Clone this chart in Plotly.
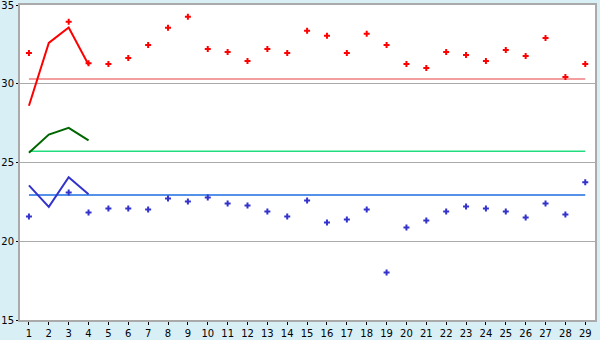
import plotly.graph_objects as go

days = list(range(1, 30))
red_pts = [31.95, None, 33.93, 31.3, 31.25, 31.64, 32.46, 33.55, 34.25, 32.21,
           32.02, 31.45, 32.21, 31.95, 33.36, 33.04, 31.95, 33.17, 32.46, 31.25,
           31.0, 32.02, 31.83, 31.45, 32.15, 31.76, 32.91, 30.43, 31.25]
blue_pts = [21.57, None, 23.10, 21.83, 22.08, 22.08, 22.02, 22.72, 22.53, 22.78,
            22.40, 22.27, 21.89, 21.57, 22.59, 21.19, 21.38, 22.02, 18.01, 20.87,
            21.32, 21.89, 22.21, 22.08, 21.89, 21.51, 22.40, 21.70, 23.74]
line_x = [1, 2, 3, 4]
red_line = [28.60, 32.59, 33.57, 31.21]
green_line = [25.62, 26.77, 27.20, 26.41]
blue_line = [23.55, 22.18, 24.06, 22.99]
ref_x = [1, 29]
red_ref = 30.30
green_ref = 25.71
blue_ref = 22.93

fig = go.Figure()
fig.add_trace(go.Scatter(x=ref_x, y=[red_ref]*2, mode="lines", line=dict(color="#f07f7f", width=1.5)))
fig.add_trace(go.Scatter(x=ref_x, y=[green_ref]*2, mode="lines", line=dict(color="#22dd80", width=1.5)))
fig.add_trace(go.Scatter(x=ref_x, y=[blue_ref]*2, mode="lines", line=dict(color="#1a6ee0", width=1.5)))
fig.add_trace(go.Scatter(x=days, y=red_pts, mode="markers",
                         marker=dict(symbol="cross", size=5, color="#ff0000", line=dict(width=0))))
fig.add_trace(go.Scatter(x=days, y=blue_pts, mode="markers",
                         marker=dict(symbol="cross", size=5, color="#3333cc", line=dict(width=0))))
fig.add_trace(go.Scatter(x=line_x, y=red_line, mode="lines", line=dict(color="#ff0000", width=2)))
fig.add_trace(go.Scatter(x=line_x, y=green_line, mode="lines", line=dict(color="#006600", width=2)))
fig.add_trace(go.Scatter(x=line_x, y=blue_line, mode="lines", line=dict(color="#3333cc", width=2)))

fig.update_layout(
    width=600, height=340,
    margin=dict(l=20, r=5, t=5, b=20),
    paper_bgcolor="#d9eff6", plot_bgcolor="#ffffff",
    showlegend=False,
    font=dict(family="DejaVu Sans", size=10, color="#000000"),
    xaxis=dict(range=[0.55, 29.49], tickmode="array", tickvals=days, ticktext=[str(d) for d in days],
               showgrid=False, zeroline=False, showline=True, linecolor="#aaaaaa", linewidth=2,
               mirror=True, ticks="outside", ticklen=3, tickcolor="#000000", tickwidth=1,
               automargin=False, ticklabeloverflow="allow"),
    yaxis=dict(range=[15, 35], tickvals=[15, 20, 25, 30, 35], showgrid=True, gridcolor="#aaaaaa",
               gridwidth=1, zeroline=False, showline=True, linecolor="#aaaaaa", linewidth=2,
               mirror=True, ticks="outside", ticklen=2, tickcolor="#000000", tickwidth=1,
               automargin=False, ticklabeloverflow="allow"),
)
fig.write_html("out.html")
